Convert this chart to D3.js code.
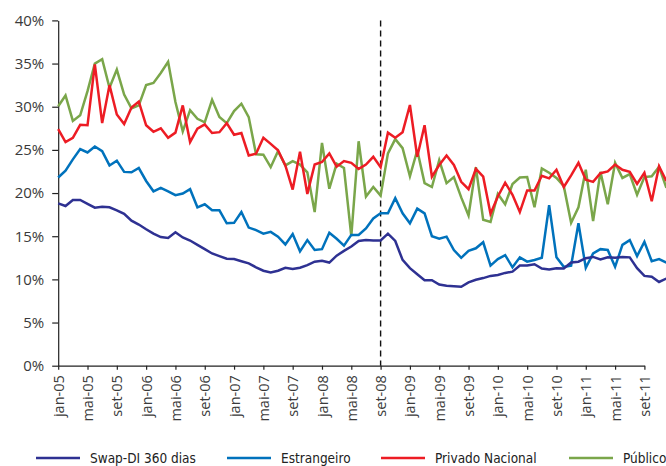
<!DOCTYPE html>
<html><head><meta charset="utf-8">
<script src="https://cdn.jsdelivr.net/npm/d3@7"></script>
<style>
html,body{margin:0;padding:0;background:#fff;}
svg{display:block;}
.cond{font-family:"DejaVu Sans Condensed","DejaVu Sans",sans-serif;font-stretch:condensed;}
</style></head>
<body>
<svg id="c" width="666" height="466"></svg>
<script>
const tickLabels = ["jan-05","mai-05","set-05","jan-06","mai-06","set-06","jan-07","mai-07","set-07","jan-08","mai-08","set-08","jan-09","mai-09","set-09","jan-10","mai-10","set-10","jan-11","mai-11","set-11"];
const yTicks = [0,5,10,15,20,25,30,35,40];
const seriesNames = ["Swap-DI 360 dias","Estrangeiro","Privado Nacional","Público"];

const swapDI = [18.8,18.5,19.2,19.2,18.75,18.3,18.4,18.35,18.0,17.6,16.8,16.35,15.8,15.3,14.9,14.8,15.45,14.85,14.5,14.0,13.5,13.0,12.7,12.4,12.35,12.1,11.85,11.4,11.0,10.8,11.0,11.35,11.2,11.35,11.65,12.05,12.15,11.95,12.75,13.3,13.8,14.45,14.55,14.5,14.5,15.3,14.45,12.25,11.3,10.6,9.9,9.9,9.4,9.25,9.2,9.15,9.65,9.95,10.15,10.4,10.5,10.75,10.9,11.6,11.6,11.75,11.25,11.15,11.3,11.25,11.95,12.05,12.45,12.6,12.3,12.55,12.5,12.6,12.55,11.3,10.4,10.3,9.7,10.1];
const estrangeiro = [21.8,22.6,23.9,25.1,24.7,25.4,24.85,23.2,23.75,22.45,22.4,22.9,21.4,20.2,20.6,20.2,19.75,19.95,20.45,18.35,18.7,18.0,18.0,16.5,16.55,17.8,16.0,15.7,15.3,15.5,14.95,14.05,15.25,13.25,14.55,13.4,13.5,15.4,14.7,13.9,15.15,15.15,15.9,17.05,17.65,17.65,19.4,17.65,16.5,18.2,17.65,15.0,14.7,14.95,13.4,12.5,13.3,13.6,14.3,11.6,12.35,12.8,11.4,12.55,12.05,12.25,12.5,18.6,12.55,11.45,11.6,16.5,11.35,13.0,13.5,13.4,11.45,14.0,14.55,12.7,14.35,12.1,12.35,11.95];
const privado = [27.4,25.9,26.4,27.9,27.85,34.9,28.1,32.5,29.1,28.0,29.9,30.6,27.85,27.1,27.5,26.4,27.0,30.15,25.9,27.45,27.95,26.95,27.05,28.1,26.75,26.95,24.35,24.55,26.4,25.7,24.95,23.2,20.4,24.8,19.9,23.3,23.6,24.6,23.05,23.7,23.5,22.8,23.3,24.2,23.0,27.0,26.4,27.05,30.2,24.2,27.85,21.9,23.25,24.35,23.25,21.3,20.45,22.8,21.9,17.6,19.6,21.2,19.8,17.8,20.3,20.3,22.0,21.7,22.7,20.7,22.05,23.5,21.55,21.3,22.3,22.5,23.3,22.7,22.45,21.05,22.35,19.05,23.1,21.4];
const publico = [30.05,31.3,28.35,29.0,31.8,35.0,35.5,32.2,34.3,31.4,29.8,30.15,32.5,32.75,33.9,35.2,30.55,27.15,29.6,28.6,28.2,30.8,28.8,28.1,29.5,30.35,28.8,24.5,24.45,23.0,24.85,23.2,23.7,23.3,22.4,17.8,25.8,20.5,23.4,22.9,15.0,26.0,19.6,20.7,19.7,24.6,26.25,25.2,21.95,24.95,21.15,20.7,23.8,21.15,21.85,19.5,17.4,23.0,16.9,16.65,19.9,18.7,21.05,21.8,21.85,18.35,22.85,22.35,21.75,20.8,16.55,18.35,22.7,16.75,22.45,18.7,23.5,21.75,22.2,19.8,21.85,21.95,23.05,20.6];
const colors = ["#2e3192","#0072bc","#ed1c24","#7aa64a"];
const crisisMonth = 44; // set-08

const svg = d3.select("#c");
const x = d3.scaleLinear().domain([0,80]).range([58.2,644.4]);
const y = d3.scaleLinear().domain([0,40]).range([365.7,20.4]);

const data = [swapDI, estrangeiro, privado, publico];

const yAxis = svg.append("g").attr("transform","translate(58.2,0)")
  .call(d3.axisLeft(y).tickValues(yTicks).tickSize(6).tickSizeOuter(0).tickFormat(d=>d+"%"));
yAxis.select(".domain").attr("stroke","#222").attr("stroke-width",1.2);
yAxis.selectAll(".tick line").attr("stroke","#222").attr("stroke-width",1.2);
yAxis.selectAll(".tick text").attr("x",-14).attr("fill","#3a3a3a")
  .style("font-family","'Open Sans',sans-serif").style("font-size","15px");

const xAxis = svg.append("g").attr("transform","translate(0,365.7)")
  .call(d3.axisBottom(x).tickValues(d3.range(0,81,4)).tickSize(4).tickSizeOuter(0)
  .tickFormat((d,i)=>tickLabels[i]));
xAxis.select(".domain").attr("stroke","#222").attr("stroke-width",1.2);
xAxis.selectAll(".tick line").attr("stroke","#222").attr("stroke-width",1.2);
xAxis.selectAll(".tick text")
  .attr("transform","rotate(-90)")
  .attr("x",-9.5).attr("y",0).attr("dy","0.35em")
  .attr("text-anchor","end").attr("fill","#3a3a3a")
  .style("font-family","'Open Sans',sans-serif")
  .style("font-size","14.5px");

svg.append("line")
  .attr("x1",x(crisisMonth)).attr("x2",x(crisisMonth))
  .attr("y1",y(40)).attr("y2",y(0))
  .attr("stroke","#111").attr("stroke-width",1.4).attr("stroke-dasharray","6,4");

const line = d3.line().x((d,i)=>x(i)).y(d=>y(d));
[3,2,1,0].forEach(k=>{
  svg.append("path").datum(data[k])
    .attr("d",line).attr("fill","none")
    .attr("stroke",colors[k]).attr("stroke-width",2.5)
    .attr("stroke-linejoin","miter");
});

const legX = [36,227,381,569];
seriesNames.forEach((n,k)=>{
  const g = svg.append("g").attr("transform",`translate(${legX[k]},458)`);
  g.append("line").attr("x1",0).attr("x2",44).attr("y1",0).attr("y2",0)
    .attr("stroke",colors[k]).attr("stroke-width",2.5);
  g.append("text").attr("class","cond").attr("x",54).attr("y",0).attr("dy","0.35em")
    .attr("fill","#222").style("font-size","13.5px").text(n);
});
</script>
</body></html>
